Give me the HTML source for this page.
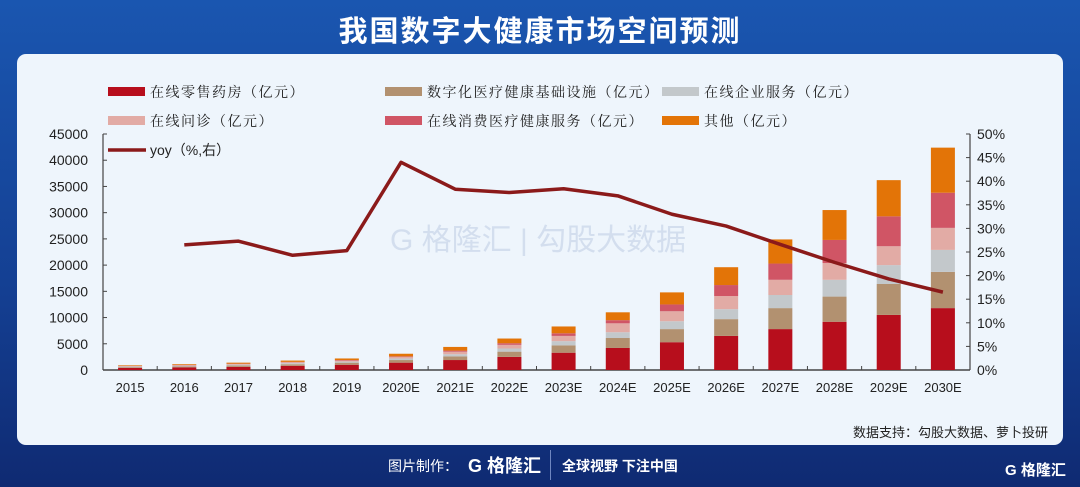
<!DOCTYPE html>
<html><head><meta charset="utf-8"><style>
body{margin:0;width:1080px;height:487px;overflow:hidden;background:linear-gradient(180deg,#1a56b0 0%,#143f92 60%,#0f2a72 100%);font-family:"Liberation Sans","Noto Sans CJK SC",sans-serif;position:relative}
#title{position:absolute;left:0;width:1080px;top:8px;text-align:center;color:#fff;font-size:29px;letter-spacing:2px;font-weight:bold;font-family:"Liberation Sans","Noto Sans CJK SC",sans-serif}
#panel{position:absolute;left:17px;top:54px;width:1046px;height:391px;background:#eef5fc;border-radius:9px}
.ft{position:absolute;color:#fff;font-size:14px;font-weight:bold}
</style></head><body>
<div id="title">我国数字大健康市场空间预测</div>
<div id="panel"></div>
<svg id="chart" width="1080" height="487" style="position:absolute;left:0;top:0"></svg>
<div class="ft" style="left:388px;top:456px;font-weight:normal">图片制作：</div>
<div class="ft" style="left:468px;top:452px;font-size:18px">G 格隆汇</div>
<div style="position:absolute;left:550px;top:450px;width:1px;height:30px;background:#6f86c0"></div>
<div class="ft" style="left:562px;top:456px">全球视野 下注中国</div>
<div class="ft" style="left:1005px;top:459px;font-size:15px">G 格隆汇</div>
<script>
const categories=["2015","2016","2017","2018","2019","2020E","2021E","2022E","2023E","2024E","2025E","2026E","2027E","2028E","2029E","2030E"];
const pharmacy=[400,500,600,800,1000,1400,1900,2500,3300,4200,5300,6500,7800,9200,10500,11800];
const infra=[150,200,250,300,400,500,700,1000,1400,1900,2500,3200,4000,4800,5900,6900];
const enterprise=[100,100,150,200,200,300,400,600,800,1100,1500,1900,2500,3200,3600,4200];
const consult=[100,100,150,200,200,300,500,700,1000,1700,1900,2500,2900,3200,3600,4200];
const consumer=[30,50,50,50,100,100,200,300,500,600,1300,2100,3100,4400,5700,6700];
const other=[120,150,200,250,300,500,700,900,1300,1500,2300,3400,4600,5700,6900,8600];
const yoy=[null,26.5,27.3,24.3,25.3,44.0,38.3,37.6,38.4,36.9,33.0,30.5,26.6,22.8,19.3,16.5];
const leftTicks=[0,5000,10000,15000,20000,25000,30000,35000,40000,45000];
const rightTicks=[0,5,10,15,20,25,30,35,40,45,50];
const seriesNames=["在线零售药房（亿元）","数字化医疗健康基础设施（亿元）","在线企业服务（亿元）","在线问诊（亿元）","在线消费医疗健康服务（亿元）","其他（亿元）"];
const colors=["#b70e1c","#b29170","#c3c8cb","#e2aba5","#d05565","#e37407"];
const series=[pharmacy,infra,enterprise,consult,consumer,other];

const NS="http://www.w3.org/2000/svg";
const svg=document.getElementById('chart');
function mk(t,a,p){const e=document.createElementNS(NS,t);for(const k in a)e.setAttribute(k,a[k]);(p||svg).appendChild(e);return e;}
const x0=103,x1=970,yB=370,yT=134;
const step=(x1-x0)/categories.length;
const xc=i=>x0+step*(i+0.5);
const yL=v=>yB-(v/45000)*(yB-yT);
const yR=v=>yB-(v/50)*(yB-yT);

const wm=mk('text',{x:390,y:250,'font-size':30,fill:'#d3deee'});wm.textContent='G 格隆汇  |  勾股大数据';



const ax=mk('line',{x1:x0,y1:yB,x2:x1,y2:yB,stroke:'#444','stroke-width':1.5});


mk('line',{x1:x0,y1:yT,x2:x0,y2:yB,stroke:'#444','stroke-width':1.2});
mk('line',{x1:x1,y1:yT,x2:x1,y2:yB,stroke:'#444','stroke-width':1.2});
leftTicks.forEach(v=>{const y=yL(v);mk('line',{x1:x0,y1:y,x2:x0+4,y2:y,stroke:'#444'});
 const t=mk('text',{x:88,y:y+5,'text-anchor':'end','font-size':14,fill:'#222'});t.textContent=v;
 
 });
rightTicks.forEach(v=>{const y=yR(v);mk('line',{x1:x1-4,y1:y,x2:x1,y2:y,stroke:'#444'});
 const t=mk('text',{x:977,y:y+5,'font-size':14,fill:'#222'});t.textContent=v+'%';
 
 });
categories.forEach((c,i)=>{if(i>0)mk('line',{x1:x0+step*i,y1:yB,x2:x0+step*i,y2:yB-4,stroke:'#444'});
 const t=mk('text',{x:xc(i),y:392,'text-anchor':'middle','font-size':13,fill:'#222'});t.textContent=c;
 
 });

const bw=24;
categories.forEach((c,i)=>{let acc=0;series.forEach((s,k)=>{const v=s[i];
 const r=mk('rect',{x:xc(i)-bw/2,y:yL(acc+v),width:bw,height:yL(acc)-yL(acc+v),fill:colors[k]});
 
 
 acc+=v;});});

let d='';yoy.forEach((v,i)=>{if(v==null)return;d+=(d?'L':'M')+xc(i)+','+yR(v);});
const ln=mk('path',{d:d,fill:'none',stroke:'#8b1a1a','stroke-width':3.5,'stroke-linejoin':'round'});



const lpos=[[108,92],[385,92],[662,92],[108,121],[385,121],[662,121]];
seriesNames.forEach((n,k)=>{const [lx,ly]=lpos[k];
 const g=mk('g',{});
 
 
 mk('rect',{x:lx,y:ly-5,width:37,height:9,fill:colors[k]},g);
 const t=mk('text',{x:lx+42,y:ly+5,'font-size':14,fill:'#222','letter-spacing':'1.5','font-family':'"Noto Serif CJK SC","Noto Sans CJK SC",serif'},g);t.textContent=n;});
const g=mk('g',{});


mk('line',{x1:108,y1:150,x2:146,y2:150,stroke:'#8b1a1a','stroke-width':3.5},g);
const yt=mk('text',{x:150,y:155,'font-size':14,fill:'#222'},g);yt.textContent='yoy（%,右）';

const src=mk('text',{x:1048,y:437,'text-anchor':'end','font-size':13,fill:'#222'});src.textContent='数据支持：勾股大数据、萝卜投研';


</script>
</body></html>
